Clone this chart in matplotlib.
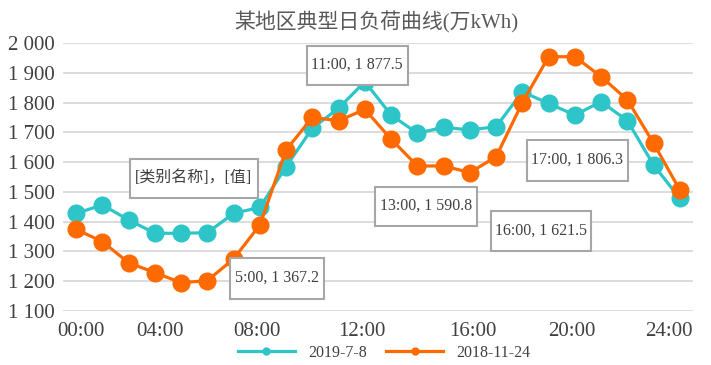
import matplotlib
matplotlib.use("Agg")
import matplotlib.pyplot as plt
from matplotlib.patches import Rectangle
from matplotlib.ticker import FuncFormatter

# 每小时负荷（万kWh），第1~24小时
hours = list(range(1, 25))
load_2019_7_8 = [1428, 1456, 1406, 1361, 1361, 1363, 1428, 1448,
                 1585, 1714, 1781, 1870, 1758, 1697, 1717, 1708,
                 1719, 1836, 1797, 1758, 1803, 1739, 1590, 1478]
load_2018_11_24 = [1374, 1333, 1262, 1229, 1195, 1202, 1275, 1389,
                   1641, 1750, 1739, 1777, 1677, 1587, 1587, 1565,
                   1618, 1800, 1954, 1954, 1887, 1809, 1663, 1506]
series_names = ["2019-7-8", "2018-11-24"]

tick_labels = ["00:00", "04:00", "08:00", "12:00", "16:00", "20:00", "24:00"]

# 数据标签文本（原图中的标注框）
label_texts = ["11:00, 1 877.5", "[类别名称]，[值]", "5:00, 1 367.2",
               "13:00, 1 590.8", "16:00, 1 621.5", "17:00, 1 806.3"]

teal = "#2ec5c8"
orange = "#ff6a00"
grid_c = "#d9d9d9"
text_c = "#404040"
serif = ["Liberation Serif", "Noto Sans CJK SC"]

W, H = 711, 365
fig = plt.figure(figsize=(W / 100, H / 100), dpi=100)
ax_l, ax_r, ax_t, ax_b = 63, 693, 43, 311
ax = fig.add_axes([ax_l / W, 1 - ax_b / H, (ax_r - ax_l) / W, (ax_b - ax_t) / H])

ax.plot(hours, load_2019_7_8, color=teal, lw=2.3, marker="o", ms=12,
        label=series_names[0], zorder=3)
ax.plot(hours, load_2018_11_24, color=orange, lw=2.3, marker="o", ms=12,
        label=series_names[1], zorder=4)

ax.set_xlim(0.5, 24.5)
ax.set_ylim(1100, 2000)
ax.set_yticks(range(1100, 2001, 100))
ax.yaxis.set_major_formatter(FuncFormatter(lambda v, p: f"{int(v):,}".replace(",", " ")))
# 原图的类别轴标签位置略有偏移
ax.set_xticks([1.2, 4.2, 7.9, 11.9, 16.1, 19.9, 23.6])
ax.set_xticklabels(tick_labels)
ax.grid(axis="y", color=grid_c, lw=1.3)
ax.set_axisbelow(True)
for s in ax.spines.values():
    s.set_visible(False)
ax.tick_params(length=0, labelsize=15, labelcolor=text_c, pad=6)
ax.tick_params(axis="x", pad=8)
for t in ax.get_xticklabels() + ax.get_yticklabels():
    t.set_family("Liberation Serif")

fig.text(0.53, 1 - 22 / H, "某地区典型日负荷曲线(万kWh)", ha="center", va="center",
         fontsize=15, color="#595959", family=serif)

# 标注框：中心点（像素）与框尺寸（像素）
box_centers = [(357, 65), (194, 178), (277, 278), (426, 206), (541, 231), (577, 160)]
box_sizes = [(101, 39), (128, 39), (94, 41), (102, 39), (100, 40), (101, 41)]
xs = 24.0 / (ax_r - ax_l)
ys = 900.0 / (ax_b - ax_t)
for txt, (cx, cy), (bw, bh) in zip(label_texts, box_centers, box_sizes):
    dx = 0.5 + (cx - ax_l) * xs
    dy = 2000 - (cy - ax_t) * ys
    ax.add_patch(Rectangle((dx - bw * xs / 2, dy - bh * ys / 2), bw * xs, bh * ys,
                           facecolor="white", edgecolor="#a6a6a6", lw=1.5,
                           zorder=6, clip_on=False))
    ax.text(dx, dy, txt, ha="center", va="center", fontsize=11.5,
            color=text_c, family=serif, zorder=7)

leg = fig.legend(loc="center", bbox_to_anchor=(0.54, 1 - 353 / H), ncol=2,
                 frameon=False, handlelength=3.6, columnspacing=1.2,
                 prop={"family": "Liberation Serif", "size": 11.5})
for h in leg.legend_handles:
    h.set_markersize(5)
for t in leg.get_texts():
    t.set_color(text_c)

fig.savefig("out.png", dpi=100)
